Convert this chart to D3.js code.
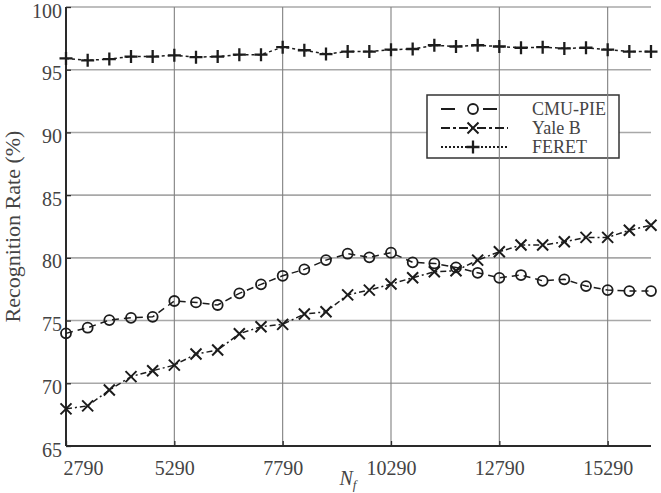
<!DOCTYPE html>
<html><head><meta charset="utf-8">
<script src="https://cdn.jsdelivr.net/npm/d3@7"></script>
<style>html,body{margin:0;padding:0;background:#fff;}svg{display:block;}svg text{font-family:"Liberation Serif","DejaVu Serif",serif;}</style>
</head><body>
<script>
const nf = [2790,3290,3790,4290,4790,5290,5790,6290,6790,7290,7790,8290,8790,9290,9790,10290,10790,11290,11790,12290,12790,13290,13790,14290,14790,15290,15790,16290];
const cmuPie = [73.98,74.43,75.04,75.22,75.30,76.56,76.45,76.24,77.17,77.89,78.57,79.08,79.82,80.33,80.04,80.41,79.64,79.56,79.24,78.81,78.41,78.63,78.17,78.29,77.75,77.43,77.35,77.35];
const yaleB = [67.96,68.20,69.46,70.53,71.00,71.45,72.33,72.65,73.95,74.51,74.70,75.52,75.70,77.05,77.43,77.91,78.41,78.89,78.97,79.82,80.49,81.02,81.02,81.28,81.63,81.63,82.20,82.60];
const feret = [95.90,95.75,95.85,96.05,96.05,96.15,96.00,96.05,96.20,96.20,96.80,96.55,96.25,96.45,96.45,96.60,96.65,96.95,96.85,96.95,96.85,96.75,96.80,96.70,96.75,96.60,96.45,96.45];
const xTicks = [2790,5290,7790,10290,12790,15290];
const yTicks = [65,70,75,80,85,90,95,100];
const seriesNames = ["CMU-PIE","Yale B","FERET"];

const W=661,H=493;
const L=66,R=651,T=7,B=446;
const svg=d3.select("body").append("svg").attr("width",W).attr("height",H);
const x=d3.scaleLinear().domain([2790,16290]).range([L,R]);
const y=d3.scaleLinear().domain([65,100]).range([B,T]);
const serif="Liberation Serif, DejaVu Serif, serif";
const ink="#1c1c1c", txt="#444";

svg.append("g").selectAll("line").data(yTicks.filter(v=>v>65)).join("line")
  .attr("x1",L).attr("x2",R).attr("y1",d=>y(d)).attr("y2",d=>y(d))
  .attr("stroke","#a8a8a8").attr("stroke-width",1.6);

const lg={x:427,y:95,w:192,h:63};
svg.append("rect").attr("x",lg.x).attr("y",lg.y).attr("width",lg.w).attr("height",lg.h)
  .attr("fill","#fff").attr("stroke","#333").attr("stroke-width",1.5);

svg.append("g").selectAll("line").data(xTicks.slice(1)).join("line")
  .attr("x1",d=>x(d)).attr("x2",d=>x(d)).attr("y1",T).attr("y2",B)
  .attr("stroke","#808080").attr("stroke-width",1.1);

const xAxis=d3.axisBottom(x).tickValues(xTicks).tickSize(-5).tickFormat(d3.format("d"));
const gx=svg.append("g").attr("transform",`translate(0,${B})`).call(xAxis);
gx.attr("font-family",null);
gx.select(".domain").attr("stroke","#2a2a2a").attr("stroke-width",2).attr("d",`M${L},0H${R}`);
gx.selectAll(".tick line").attr("stroke","#2a2a2a").attr("stroke-width",1.3);
gx.selectAll(".tick text").attr("font-size",20).attr("fill",txt)
  .attr("y",null).attr("dy",null).attr("transform","translate(0,29)")
  .attr("text-anchor",(d,i)=>i===0?"start":"middle").attr("x",(d,i)=>i===0?-3:0);

const yAxis=d3.axisLeft(y).tickValues(yTicks).tickSize(-5).tickFormat(d3.format("d"));
const gy=svg.append("g").attr("transform",`translate(${L},0)`).call(yAxis);
gy.attr("font-family",null);
gy.select(".domain").attr("stroke","#2a2a2a").attr("stroke-width",2).attr("d",`M0,${T}V${B}`);
gy.selectAll(".tick line").attr("stroke","#2a2a2a").attr("stroke-width",1.3);
gy.selectAll(".tick text").attr("font-size",20).attr("fill",txt)
  .attr("x",-4).attr("dy","0.5em");

svg.append("text").attr("transform",`translate(20,${(T+B)/2}) rotate(-90)`)
  .attr("text-anchor","middle").attr("font-size",22).attr("fill",txt)
  .text("Recognition Rate (%)");
const nt=svg.append("text").attr("x",348).attr("y",485).attr("text-anchor","middle")
  .attr("font-size",20).attr("font-style","italic").attr("fill",txt);
nt.append("tspan").text("N");
nt.append("tspan").attr("font-size",13).attr("dy",4).text("f");

const line=d3.line().x((d,i)=>x(nf[i])).y(d=>y(d));
const styles=[
  {data:cmuPie,dash:"7,5",marker:"circle"},
  {data:yaleB,dash:"6,3,2,3",marker:"x"},
  {data:feret,dash:"3,3",marker:"plus"}
];
function drawMarker(g,type,cx,cy){
  if(type==="circle"){
    g.append("circle").attr("cx",cx).attr("cy",cy).attr("r",5).attr("fill","none")
      .attr("stroke",ink).attr("stroke-width",1.8);
  } else if(type==="x"){
    const s=5.5;
    g.append("path").attr("d",`M${cx-s},${cy-s}L${cx+s},${cy+s}M${cx-s},${cy+s}L${cx+s},${cy-s}`)
      .attr("stroke",ink).attr("stroke-width",2);
  } else {
    const s=6.5;
    g.append("path").attr("d",`M${cx-s},${cy}L${cx+s},${cy}M${cx},${cy-s}L${cx},${cy+s}`)
      .attr("stroke",ink).attr("stroke-width",2.3);
  }
}
styles.forEach(st=>{
  svg.append("path").attr("d",line(st.data)).attr("fill","none").attr("stroke",ink)
    .attr("stroke-width",1.5).attr("stroke-dasharray",st.dash);
  const g=svg.append("g");
  st.data.forEach((v,i)=>drawMarker(g,st.marker,x(nf[i]),y(v)));
});

const rowsY=[109,128,147];
styles.forEach((st,i)=>{
  const ry=rowsY[i];
  svg.append("line").attr("x1",441).attr("x2",508).attr("y1",ry).attr("y2",ry)
    .attr("stroke",ink).attr("stroke-width",2).attr("stroke-dasharray",i===0?"14,28,14":(i===1?"9,3,3,3":"2,2"));
  drawMarker(svg,st.marker,473,ry);
  svg.append("text").attr("x",532).attr("y",ry+6).attr("font-size",18)
    .attr("fill",txt).text(seriesNames[i]);
});
</script>
</body></html>
